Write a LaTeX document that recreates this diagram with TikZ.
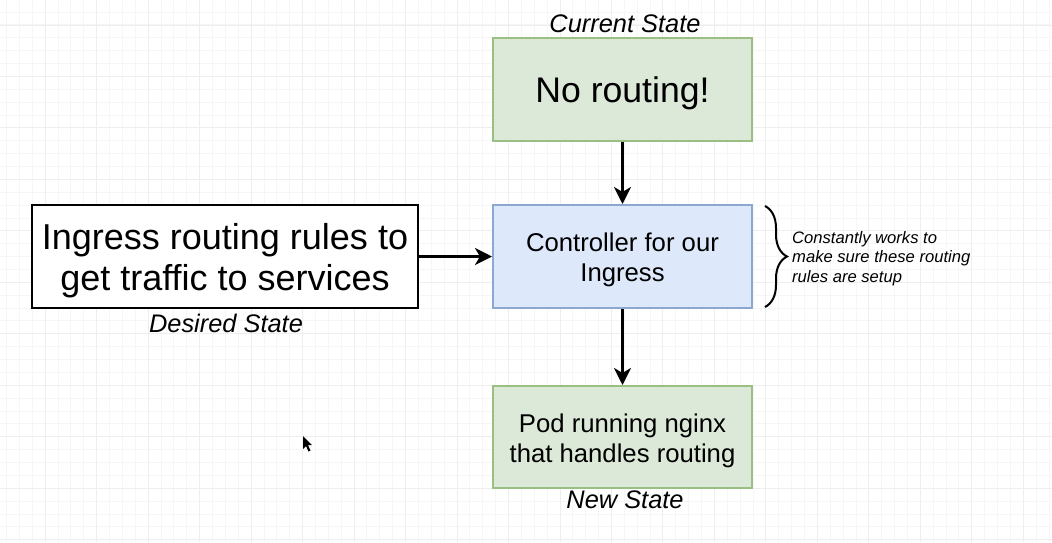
\documentclass[tikz,border=0pt]{standalone}
\usepackage{fontspec}
\setmainfont{Liberation Sans}
\usetikzlibrary{arrows.meta,decorations.pathreplacing}

\definecolor{gridminor}{HTML}{F6F6F6}
\definecolor{gridmajor}{HTML}{EEEEEE}
\definecolor{greenfill}{HTML}{DCE8D8}
\definecolor{greenline}{HTML}{9ABF83}
\definecolor{bluefill}{HTML}{DDE8FA}
\definecolor{blueline}{HTML}{8CA7D0}

\tikzset{
  box/.style={draw, line width=2pt, minimum width=259pt, minimum height=103pt, inner sep=0pt},
  greenbox/.style={box, fill=greenfill, draw=greenline},
  bluebox/.style={box, fill=bluefill, draw=blueline},
  boxtext/.style={inner sep=0pt, align=center, font=\fontsize{25.7}{30}\selectfont},
  bigtext/.style={inner sep=0pt, align=center, font=\fontsize{36}{41}\selectfont},
  statelabel/.style={inner sep=0pt, font=\fontsize{25.4}{30}\selectfont\itshape},
  flow/.style={line width=3pt, -{Stealth[length=17pt,width=17pt,inset=5pt]}},
}

\begin{document}
\begin{tikzpicture}[x=1pt,y=-1pt]
  \useasboundingbox (0,0) rectangle (1052,542);
  \fill[white] (0,0) rectangle (1052,542);

  % background grid
  \begin{scope}
    \clip (0,0) rectangle (1052,542);
    \foreach \i in {0,...,81}
      \draw[gridminor, line width=1pt] ({6.6+12.87*\i},0) -- ({6.6+12.87*\i},542);
    \foreach \i in {0,...,42}
      \draw[gridminor, line width=1pt] (0,{12.1+12.87*\i}) -- (1052,{12.1+12.87*\i});
    \foreach \j in {0,...,19}
      \draw[gridmajor, line width=1pt] ({45.2+51.48*\j},0) -- ({45.2+51.48*\j},542);
    \foreach \j in {0,...,10}
      \draw[gridmajor, line width=1pt] (0,{25+51.48*\j}) -- (1052,{25+51.48*\j});
  \end{scope}

  % state boxes
  \node[greenbox] (current) at (622.5,89.5) {};
  \node[bluebox] (ctrl) at (622.5,256.5) {};
  \node[greenbox, minimum height=102pt] (pod) at (622.5,437) {};
  \node[box, fill=white, draw=black, line width=2.2pt, minimum width=386pt] (rules) at (225,256.5) {};

  % box texts
  \node[bigtext, font=\fontsize{35.6}{41}\selectfont] (currenttxt)
    at ([yshift=-4pt]current.center) {No routing!};
  \node[boxtext] (ctrltxt) at ([yshift=-3.5pt]ctrl.center) {Controller for our\\Ingress};
  \node[boxtext] (podtxt) at ([yshift=-4pt]pod.center) {Pod running nginx\\that handles routing};
  \node[bigtext] (rulestxt) at ([yshift=-4.5pt]rules.center) {Ingress routing rules to\\get traffic to services};

  % captions
  \node[statelabel] (curlbl) at (625,24) {Current State};
  \node[statelabel] (deslbl) at (226,323) {Desired State};
  \node[statelabel] (newlbl) at (625,500) {New State};

  % flow arrows
  \draw[flow] (current.south) -- (ctrl.north);
  \draw[flow] (rules.east) -- (ctrl.west);
  \draw[flow] (ctrl.south) -- (pod.north);

  % brace with note
  \coordinate (bracetop) at (765,206);
  \coordinate (bracebot) at (765,307);
  \draw[line width=2pt, decorate, decoration={brace, amplitude=22pt}] (bracetop) -- (bracebot);
  \node[anchor=west, align=left, inner sep=0pt,
        font=\fontsize{16.6}{19.5}\selectfont\itshape] (note) at (792,258.5)
        {Constantly works to\\make sure these routing\\rules are setup};

  % mouse pointer
  \fill[black] (303,436) -- (303,449) -- (306,446) -- (308.5,451.5) -- (310.5,450.5)
    -- (308,445) -- (312,445) -- cycle;
\end{tikzpicture}
\end{document}
